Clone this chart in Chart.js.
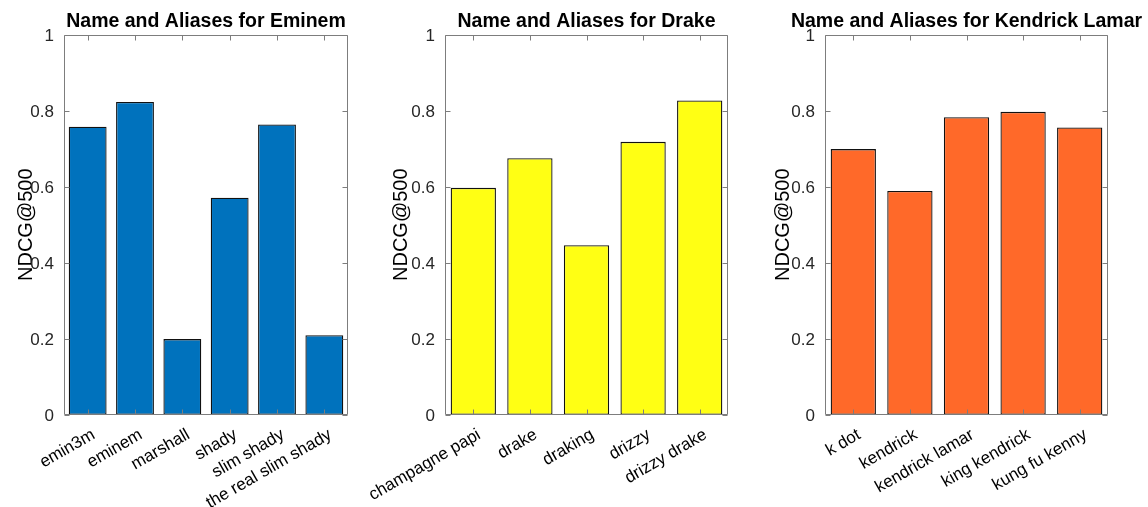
<!DOCTYPE html>
<html>
<head>
<meta charset="utf-8">
<script src="https://cdn.jsdelivr.net/npm/chart.js@4/dist/chart.umd.min.js"></script>
<style>
  html, body { margin: 0; padding: 0; background: #fff; }
  #wrap { position: relative; width: 1148px; height: 507px; overflow: hidden; }
  .panel { position: absolute; left: 0; top: 0; width: 1148px; height: 507px; }
</style>
</head>
<body>
<div id="wrap">
  <div class="panel"><canvas id="c1"></canvas></div>
  <div class="panel"><canvas id="c2"></canvas></div>
  <div class="panel"><canvas id="c3"></canvas></div>
</div>
<script>
// NDCG@500 retrieval scores per artist name / alias
const eminemAliases = ['emin3m', 'eminem', 'marshall', 'shady', 'slim shady', 'the real slim shady'];
const eminemNdcg = [0.758, 0.823, 0.199, 0.571, 0.764, 0.209];

const drakeAliases = ['champagne papi', 'drake', 'draking', 'drizzy', 'drizzy drake'];
const drakeNdcg = [0.597, 0.675, 0.446, 0.718, 0.827];

const kendrickAliases = ['k dot', 'kendrick', 'kendrick lamar', 'king kendrick', 'kung fu kenny'];
const kendrickNdcg = [0.699, 0.589, 0.783, 0.797, 0.756];

const yTickValues = [0, 0.2, 0.4, 0.6, 0.8, 1];

const FONT = 'Arial, "Liberation Sans", Helvetica, sans-serif';
const INK = '#262626';

// Boxed axes with inward-pointing ticks on all four sides, plus the panel title
const boxTicks = {
  id: 'boxTicks',
  afterDatasetsDraw(chart, args, opts) {
    const { ctx, chartArea: a, scales: { x, y } } = chart;
    const L = Math.round(a.left) + 0.5, R = Math.round(a.right) - 0.5;
    const T = Math.round(a.top) + 0.5, B = Math.round(a.bottom) - 0.5;
    const len = 5;
    ctx.save();
    ctx.lineWidth = 1;
    ctx.strokeStyle = '#7d7d7d';
    ctx.beginPath();
    ctx.rect(L, T, R - L, B - T);
    x.ticks.forEach((t, i) => {
      const px = Math.round(x.getPixelForTick(i)) + 0.5;
      ctx.moveTo(px, B); ctx.lineTo(px, B - len);
      ctx.moveTo(px, T); ctx.lineTo(px, T + len);
    });
    y.ticks.forEach(t => {
      const py = Math.round(y.getPixelForValue(t.value)) + 0.5;
      ctx.moveTo(L, py); ctx.lineTo(L + len, py);
      ctx.moveTo(R, py); ctx.lineTo(R - len, py);
    });
    ctx.stroke();

    // title centred over the plot box
    ctx.fillStyle = '#000';
    ctx.font = 'bold 19.5px ' + FONT;
    ctx.textAlign = 'center';
    ctx.textBaseline = 'alphabetic';
    ctx.fillText(opts.text, (a.left + a.right) / 2, 26.5);
    ctx.restore();
  }
};

function makePanel(id, title, labels, values, color, padLeft, yAxisWidth, padRight, yTitlePad) {
  new Chart(document.getElementById(id), {
    type: 'bar',
    data: {
      labels: labels,
      datasets: [{
        data: values,
        backgroundColor: color,
        borderColor: '#111',
        borderWidth: 1.3,
        borderSkipped: false,
        barPercentage: 0.8,
        categoryPercentage: 1.0
      }]
    },
    options: {
      responsive: true,
      maintainAspectRatio: false,
      animation: false,
      devicePixelRatio: 1,
      layout: { padding: { left: padLeft, right: padRight, top: 34.7, bottom: 0 } },
      plugins: {
        legend: { display: false },
        tooltip: { enabled: false },
        title: { display: false },
        boxTicks: { text: title }
      },
      scales: {
        x: {
          type: 'category',
          offset: true,
          grid: { display: false, drawTicks: false },
          border: { display: false },
          ticks: {
            autoSkip: false,
            minRotation: 30,
            maxRotation: 30,
            padding: 10,
            labelOffset: 6,
            color: '#000',
            font: { family: FONT, size: 17 }
          },
          afterFit(scale) {
            scale.height = 92.3;
            scale.paddingLeft = 0;
            scale.paddingRight = 0;
          }
        },
        y: {
          min: 0,
          max: 1,
          grid: { display: false, drawTicks: false },
          border: { display: false },
          afterBuildTicks(scale) { scale.ticks = yTickValues.map(v => ({ value: v })); },
          ticks: {
            padding: 10,
            labelOffset: 1.5,
            color: INK,
            font: { family: FONT, size: 17 },
            callback: v => String(v)
          },
          title: {
            display: true,
            text: 'NDCG@500',
            color: '#000',
            font: { family: FONT, size: 20, lineHeight: 1.2 },
            padding: { top: yTitlePad, bottom: 0 }
          },
          afterFit(scale) {
            scale.width = yAxisWidth;
            scale.paddingTop = 0;
            scale.paddingBottom = 0;
          }
        }
      }
    },
    plugins: [boxTicks]
  });
}

makePanel('c1', 'Name and Aliases for Eminem', eminemAliases, eminemNdcg, '#0072BD', 0, 64, 800, 14);
makePanel('c2', 'Name and Aliases for Drake', drakeAliases, drakeNdcg, '#FFFF14', 383, 62, 420, 6);
makePanel('c3', 'Name and Aliases for Kendrick Lamar', kendrickAliases, kendrickNdcg, '#FF6929', 765, 60, 40, 6);
</script>
</body>
</html>
